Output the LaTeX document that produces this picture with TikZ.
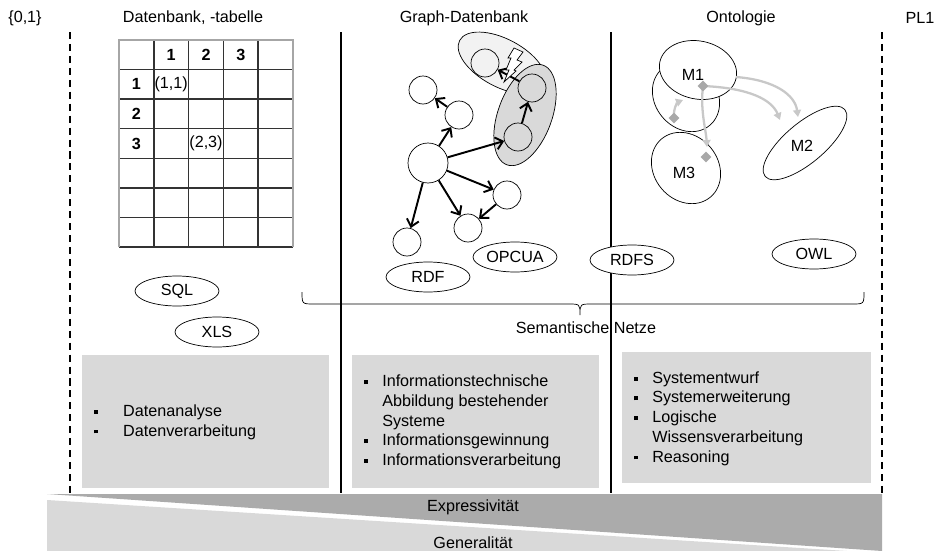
\documentclass[tikz,border=0pt]{standalone}
\usepackage{fontspec}
\setmainfont{Liberation Sans}
\usetikzlibrary{arrows.meta,shapes.geometric}
\definecolor{boxgray}{HTML}{D9D9D9}
\definecolor{wedgegray}{HTML}{ABABAB}
\definecolor{blobgray}{HTML}{F2F2F2}
\definecolor{linkgray}{HTML}{C8C8C8}
\definecolor{diagray}{HTML}{A8A8A8}
\newcommand{\blt}[1]{\makebox[#1][l]{\rule[1.5pt]{2.2pt}{2.2pt}}}
\tikzset{
  tag/.style={draw,ellipse,fill=white,minimum width=1.68cm,minimum height=0.6cm,inner sep=0pt},
  sep/.style={line width=1.2pt,dash pattern=on 4pt off 2.8pt},
  vert/.style={line width=0.9pt},
  grid/.style={line width=0.8pt,black!80},
  knot/.style={draw,circle,fill=white,minimum size=0.56cm,inner sep=0pt},
  edge/.style={line width=1.1pt,-{Straight Barb[length=4pt,width=7pt]}},
  link/.style={draw=linkgray,line width=1.3pt,-{Triangle[length=4pt,width=4.5pt]}},
  diam/.style={diamond,fill=diagray,minimum size=0.22cm,inner sep=0pt},
  list/.style={anchor=west,align=left,inner sep=0pt},
}

\begin{document}
\begin{tikzpicture}[x=0.02cm,y=-0.02cm,font=\fontsize{9.2}{11.2}\selectfont]
  \useasboundingbox (0,0) rectangle (937,551);

  \node (t0) at (25,18) {\{0,1\}};
  \node (t1) at (193,18) {Datenbank, -tabelle};
  \node (t2) at (464,18) {Graph-Datenbank};
  \node (t3) at (741,18) {Ontologie};
  \node (t4) at (920,18) {PL1};

  \draw[sep] (70,32) -- (70,493);
  \draw[sep] (882,32) -- (882,493);
  \draw[vert] (341,32) -- (341,493);
  \draw[vert] (611,32) -- (611,493);

  \fill[boxgray] (82,355) rectangle (329,488);
  \fill[boxgray] (352,355) rectangle (599,488);
  \fill[boxgray] (622,352) rectangle (871,483);

  \fill[wedgegray] (47,494) -- (882,494) -- (882,551) -- cycle;
  \fill[boxgray] (47,500) -- (47,551) -- (847,551) -- cycle;
  \node (expr) at (473,507) {Expressivität};
  \node (gen) at (473,543) {Generalität};

  \foreach \i in {1,...,4}
    \draw[grid] ({119+34.8*\i},40) -- ({119+34.8*\i},247);
  \foreach \j in {1,...,7}
    \draw[grid] (119,{40+29.57*\j}) -- (293,{40+29.57*\j});
  \draw[black!35,line width=0.6pt] (119,247) -- (119,40) -- (293,40) -- (293,247);
  \node[font=\fontsize{9.2}{11.2}\selectfont\bfseries] (h1) at (171.2,54.8) {1};
  \node[font=\fontsize{9.2}{11.2}\selectfont\bfseries] (h2) at (206,54.8) {2};
  \node[font=\fontsize{9.2}{11.2}\selectfont\bfseries] (h3) at (240.8,54.8) {3};
  \node[font=\fontsize{9.2}{11.2}\selectfont\bfseries] (r1) at (136.4,84.4) {1};
  \node[font=\fontsize{9.2}{11.2}\selectfont\bfseries] (r2) at (136.4,113.9) {2};
  \node[font=\fontsize{9.2}{11.2}\selectfont\bfseries] (r3) at (136.4,143.5) {3};
  \node (v11) at (171.2,84.4) {(1,1)};
  \node (v23) at (206,143.5) {(2,3)};

  \fill[blobgray,draw=black,rotate around={-28:(502,63)}] (502,63) ellipse [x radius=0.96cm,y radius=0.48cm];
  \fill[boxgray,draw=black,rotate around={70:(525,115)}] (525,115) ellipse [x radius=1.06cm,y radius=0.54cm];
  \node[knot,minimum size=0.8cm] (c0) at (428,163) {};
  \node[knot] (c1) at (459,115) {};
  \node[knot] (c2) at (423,90) {};
  \node[knot] (c3) at (407,242) {};
  \node[knot] (c4) at (468,228) {};
  \node[knot] (c5) at (507,195) {};
  \node[knot,fill=none] (c6) at (518,137) {};
  \node[knot,fill=none] (c7) at (532,88) {};
  \node[knot,fill=none] (c8) at (485,63) {};
  \draw[edge] (c0) -- (c1);
  \draw[edge] (c1) -- (c2);
  \draw[edge] (c0) -- (c6);
  \draw[edge] (c6) -- (c7);
  \draw[edge] (c7) -- (c8);
  \draw[edge] (c0) -- (c5);
  \draw[edge] (c0) -- (c4);
  \draw[edge] (c5) -- (c4);
  \draw[edge] (c0) -- (c3);
  \draw[fill=white,line width=0.4pt] (514,48) -- (523,52) -- (517,60) -- (522,62) -- (514,70)
    -- (516,71) -- (504,82) -- (509,70) -- (506,70) -- (511,58) -- (508,58) -- cycle;

  \draw[rotate around={-50:(686,97)}] (686,97) ellipse [x radius=0.74cm,y radius=0.62cm];
  \filldraw[fill=white,rotate around={-12:(698,70)}] (698,70) ellipse [x radius=0.78cm,y radius=0.58cm];
  \draw[rotate around={-50:(686,168)}] (686,168) ellipse [x radius=0.76cm,y radius=0.64cm];
  \draw[rotate around={40:(805,143)}] (805,143) ellipse [x radius=1.04cm,y radius=0.4cm];
  \node (m1) at (693,75) {M1};
  \node (m2) at (802,146) {M2};
  \node (m3) at (684,173) {M3};
  \coordinate (m1e) at (736,77);
  \coordinate (p1) at (798,117);
  \coordinate (p2) at (780,120);
  \coordinate (p3) at (707,147);
  \coordinate (p4) at (683,100);
  \draw[link] (m1e) .. controls (775,80) and (795,95) .. (p1);
  \draw[link] (703,86) .. controls (750,88) and (772,100) .. (p2);
  \draw[link] (703,86) .. controls (700,110) and (706,130) .. (p3);
  \draw[link] (674,118) .. controls (673,108) and (678,102) .. (p4);
  \node[diam] (d1) at (703,86) {};
  \node[diam] (d2) at (674,118) {};
  \node[diam] (d3) at (706,157) {};

  \node[tag] (sql) at (177,291) {SQL};
  \node[tag] (xls) at (217,332) {XLS};
  \node[tag] (rdf) at (428,277) {RDF};
  \node[tag] (opcua) at (515,257) {OPCUA};
  \node[tag] (rdfs) at (632,260) {RDFS};
  \node[tag] (owl) at (814,254) {OWL};

  \coordinate (bl) at (302,292);
  \coordinate (br) at (864,292);
  \coordinate (bt) at (580,315);
  \draw (bl) .. controls (302,304) .. (314,304) -- (568,304) .. controls (580,304) .. (bt)
    .. controls (580,304) .. (592,304) -- (852,304) .. controls (864,304) .. (br);
  \node (sem) at (586,328) {Semantische Netze};

  \node[list] (l1) at (94,422) {\blt{16.4pt}Datenanalyse\\ \blt{16.4pt}Datenverarbeitung};
  \node[list] (l2) at (364,422) {\blt{10.2pt}Informationstechnische\\ \hspace*{10.2pt}Abbildung bestehender\\
    \hspace*{10.2pt}Systeme\\ \blt{10.2pt}Informationsgewinnung\\ \blt{10.2pt}Informationsverarbeitung};
  \node[list] (l3) at (634,418.5) {\blt{10.2pt}Systementwurf\\ \blt{10.2pt}Systemerweiterung\\
    \blt{10.2pt}Logische\\ \hspace*{10.2pt}Wissensverarbeitung\\ \blt{10.2pt}Reasoning};
\end{tikzpicture}
\end{document}
